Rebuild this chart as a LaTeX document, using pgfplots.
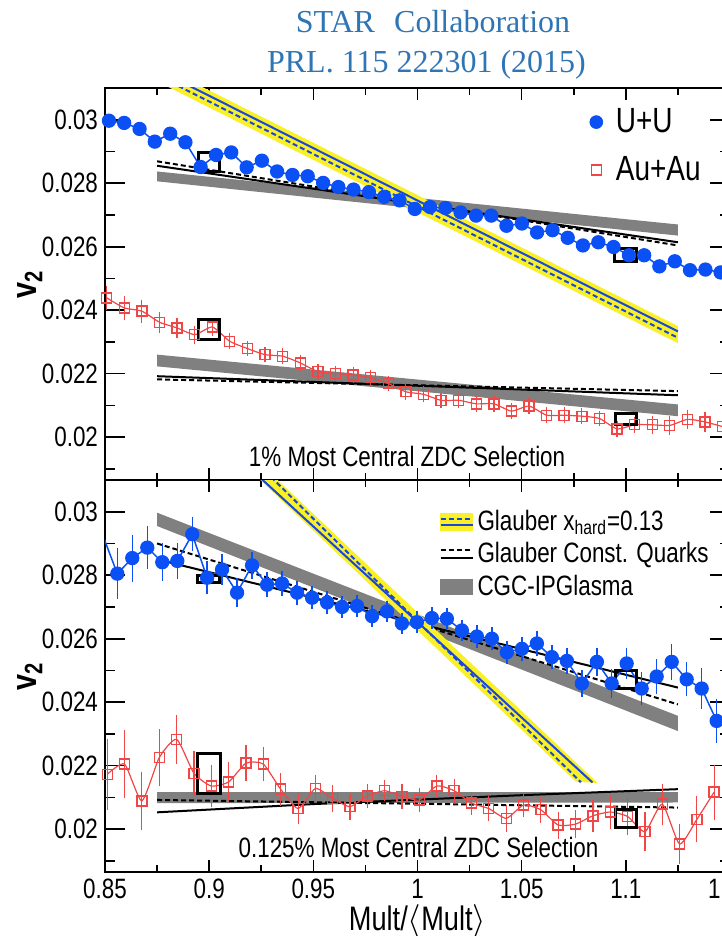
\documentclass[border=0pt]{standalone}
\usepackage{pgfplots}
\pgfplotsset{compat=1.18}
\usepackage{pgfplotstable}
\usepgfplotslibrary{groupplots}
\usepackage{fontspec}
\setmainfont{Liberation Sans}[FakeStretch=0.8]
\newfontfamily\titlefont{Liberation Serif}

\definecolor{uublue}{RGB}{10,80,245}
\definecolor{aured}{RGB}{240,70,70}
\definecolor{gxyellow}{RGB}{250,240,40}
\definecolor{gxblue}{RGB}{25,70,220}
\definecolor{cgcgray}{RGB}{128,128,128}
\definecolor{titleblue}{RGB}{46,117,182}

% ---------------- data ----------------
\pgfplotstableread{
x y
0.8519 0.02997
0.8592 0.02990
0.8666 0.02971
0.8739 0.02931
0.8813 0.02956
0.8886 0.02929
0.8959 0.02851
0.9033 0.02889
0.9106 0.02897
0.9180 0.02850
0.9253 0.02871
0.9326 0.02837
0.9400 0.02826
0.9473 0.02822
0.9547 0.02801
0.9620 0.02788
0.9693 0.02780
0.9767 0.02772
0.9840 0.02757
0.9914 0.02746
0.9987 0.02719
1.0060 0.02725
1.0134 0.02722
1.0207 0.02708
1.0281 0.02698
1.0354 0.02698
1.0427 0.02666
1.0501 0.02673
1.0574 0.02645
1.0648 0.02652
1.0721 0.02628
1.0794 0.02604
1.0868 0.02614
1.0941 0.02599
1.1015 0.02573
1.1088 0.02573
1.1161 0.02538
1.1235 0.02554
1.1308 0.02526
1.1382 0.02528
1.1455 0.02519
}\topUU

\pgfplotstableread{
x y e
0.8508 0.02439 0.00025
0.8593 0.02407 0.00025
0.8677 0.02397 0.00024
0.8762 0.02362 0.00020
0.8846 0.02344 0.00018
0.8931 0.02323 0.00016
0.9015 0.02347 0.00015
0.9099 0.02302 0.00012
0.9184 0.02279 0.00012
0.9268 0.02260 0.00012
0.9353 0.02255 0.00012
0.9437 0.02234 0.00012
0.9522 0.02206 0.00012
0.9606 0.02201 0.00012
0.9691 0.02196 0.00012
0.9775 0.02187 0.00012
0.9860 0.02169 0.00012
0.9944 0.02143 0.00012
1.0029 0.02135 0.00012
1.0113 0.02116 0.00012
1.0198 0.02116 0.00012
1.0282 0.02105 0.00012
1.0367 0.02105 0.00012
1.0451 0.02082 0.00012
1.0535 0.02098 0.00012
1.0620 0.02069 0.00012
1.0704 0.02069 0.00012
1.0789 0.02066 0.00012
1.0873 0.02059 0.00012
1.0958 0.02026 0.00013
1.1042 0.02039 0.00013
1.1127 0.02039 0.00015
1.1211 0.02037 0.00017
1.1296 0.02056 0.00018
1.1380 0.02048 0.00019
1.1465 0.02033 0.00020
}\topAA

\pgfplotstableread{
x y e
0.8559 0.02805 0.00066
0.8631 0.02854 0.00060
0.8703 0.02887 0.00054
0.8775 0.02841 0.00046
0.8847 0.02845 0.00044
0.8919 0.02929 0.00040
0.8990 0.02792 0.00038
0.9062 0.02818 0.00034
0.9134 0.02745 0.00031
0.9206 0.02831 0.00029
0.9278 0.02770 0.00026
0.9350 0.02774 0.00026
0.9422 0.02745 0.00024
0.9494 0.02729 0.00023
0.9566 0.02714 0.00022
0.9638 0.02700 0.00021
0.9710 0.02703 0.00020
0.9782 0.02671 0.00020
0.9854 0.02686 0.00020
0.9925 0.02648 0.00020
0.9997 0.02652 0.00020
1.0069 0.02665 0.00020
1.0141 0.02663 0.00020
1.0213 0.02626 0.00020
1.0285 0.02607 0.00021
1.0357 0.02600 0.00022
1.0429 0.02557 0.00023
1.0501 0.02568 0.00024
1.0573 0.02585 0.00025
1.0645 0.02542 0.00025
1.0717 0.02530 0.00026
1.0789 0.02459 0.00029
1.0861 0.02527 0.00030
1.0932 0.02459 0.00031
1.1004 0.02522 0.00034
1.1076 0.02443 0.00037
1.1148 0.02481 0.00040
1.1220 0.02527 0.00044
1.1292 0.02472 0.00040
1.1364 0.02443 0.00051
1.1436 0.02341 0.00055
}\botUU

\pgfplotstableread{
x y e
0.8511 0.02173 0.00100
0.8594 0.02205 0.00094
0.8677 0.02089 0.00080
0.8761 0.02226 0.00076
0.8844 0.02283 0.00064
0.8927 0.02176 0.00058
0.9010 0.02136 0.00055
0.9094 0.02149 0.00050
0.9177 0.02208 0.00043
0.9260 0.02205 0.00040
0.9343 0.02126 0.00039
0.9427 0.02065 0.00035
0.9510 0.02128 0.00031
0.9593 0.02097 0.00031
0.9676 0.02071 0.00028
0.9760 0.02105 0.00025
0.9843 0.02121 0.00021
0.9926 0.02103 0.00026
1.0009 0.02092 0.00026
1.0093 0.02136 0.00023
1.0176 0.02121 0.00025
1.0259 0.02082 0.00024
1.0342 0.02065 0.00027
1.0426 0.02034 0.00030
1.0509 0.02076 0.00026
1.0592 0.02061 0.00029
1.0675 0.02013 0.00030
1.0759 0.02016 0.00032
1.0842 0.02042 0.00037
1.0925 0.02054 0.00042
1.1008 0.02040 0.00047
1.1092 0.01992 0.00049
1.1175 0.02079 0.00052
1.1258 0.01953 0.00051
1.1341 0.02031 0.00060
1.1424 0.02117 0.00074
}\botAA

\pgfplotsset{
  markleg/.style={legend image code/.code={\draw[##1] plot coordinates {(0pt,0pt)}; \path (7.6pt,0pt);}},
  panel/.style={
    scale only axis, width=312.5pt, height=196pt,
    xmin=0.85, xmax=1.15, ymin=0.01865, ymax=0.0310,
    xtick={0.85,0.9,0.95,1,1.05,1.1,1.15},
    minor xtick={0.875,0.925,0.975,1.025,1.075,1.125},
    ytick={0.02,0.022,0.024,0.026,0.028,0.03},
    minor ytick={0.019,0.021,0.023,0.025,0.027,0.029},
    tick align=inside,
    major tick length=10pt, minor tick length=5pt,
    xtick style={/pgfplots/major tick length=6pt,/pgfplots/minor tick length=3.3pt},
    axis line style={line width=1pt},
    every tick/.append style={line width=0.8pt, black},
    tick label style={font=\fontsize{14}{16}\selectfont},
    scaled ticks=false,
    yticklabel style={/pgf/number format/fixed, /pgf/number format/precision=3},
    xticklabel style={/pgf/number format/fixed, /pgf/number format/precision=2},
    /pgf/number format/assume math mode=true,
    ylabel={\bfseries v\textsubscript{2}},
    ylabel style={font=\fontsize{18}{20}\selectfont, at={(axis description cs:-0.12,0.5)}, anchor=center},
  },
  uustyle/.style={uublue, line width=0.75pt, mark=*, mark size=3.2pt, mark options={solid, fill=uublue, draw=uublue}},
  aastyle/.style={aured, line width=0.6pt, smooth, tension=0.35, mark=square, mark size=2.5pt, mark options={solid, line width=0.7pt, fill=none}},
  sysbox/.style={black, line width=1.5pt, forget plot, line join=miter},
  band/.style={draw=none, forget plot},
  mline/.style={black, line width=1pt, forget plot},
  mdash/.style={black, line width=1pt, dash pattern=on 2.5pt off 1.5pt, forget plot},
}

\begin{document}
\begin{tikzpicture}
\begin{groupplot}[group style={group size=1 by 2, vertical sep=0pt}, panel]
% ================= top panel =================
\nextgroupplot[xticklabels={},
  legend style={at={(0.7656,0.969)}, anchor=north west, draw=none, fill=none,
    font=\fontsize{17.5}{20}\selectfont, row sep=6.5pt},
  legend cell align=left]
\addlegendimage{only marks, mark=*, mark size=3.2pt, color=uublue, mark options={fill=uublue}, markleg}
\addlegendentry{U+U}
\addlegendimage{only marks, mark=square, mark size=2.5pt, color=aured, mark options={line width=0.7pt}, markleg}
\addlegendentry{Au+Au}
% CGC bands
\addplot[band, fill=cgcgray] coordinates {(0.875,0.02806) (1.125,0.02635) (1.125,0.02670) (0.875,0.02837)} -- cycle;
\addplot[band, fill=cgcgray] coordinates {(0.875,0.02223) (1.125,0.02066) (1.125,0.02103) (0.875,0.02260)} -- cycle;
% Glauber const quarks
\addplot[mline] coordinates {(0.875,0.02855) (1.125,0.02614)};
\addplot[mdash] coordinates {(0.875,0.02869) (1.125,0.02604)};
\addplot[mline] coordinates {(0.875,0.02192) (1.125,0.02132)};
\addplot[mdash] coordinates {(0.875,0.02182) (1.125,0.02145)};
% Glauber x_hard
\addplot[band, fill=gxyellow] coordinates {(0.875,0.03175) (1.125,0.02350) (1.125,0.02296) (0.875,0.03121)} -- cycle;
\addplot[gxblue, line width=1pt, forget plot] coordinates {(0.875,0.03158) (1.125,0.02333)};
\addplot[gxblue, line width=1pt, dash pattern=on 2.5pt off 1.5pt, forget plot] coordinates {(0.875,0.03140) (1.125,0.02313)};
% data
\addplot[uustyle, forget plot] table[x=x, y=y] {\topUU};
\addplot[aastyle, forget plot, error bars/.cd, y dir=both, y explicit,
  error bar style={line width=0.6pt, solid}, error mark options={mark size=2pt, line width=0.6pt}]
  table[x=x, y=y, y error=e] {\topAA};
% systematic boxes
\addplot[sysbox] coordinates {(0.8947,0.02837) (0.9048,0.02837) (0.9048,0.02897) (0.8947,0.02897)} -- cycle;
\addplot[sysbox] coordinates {(1.0947,0.02554) (1.1053,0.02554) (1.1053,0.02593) (1.0947,0.02593)} -- cycle;
\addplot[sysbox] coordinates {(0.8947,0.02308) (0.9048,0.02308) (0.9048,0.02370) (0.8947,0.02370)} -- cycle;
\addplot[sysbox] coordinates {(1.0952,0.02040) (1.1053,0.02040) (1.1053,0.02074) (1.0952,0.02074)} -- cycle;
\node[anchor=base, font=\fontsize{14}{16}\selectfont] at (axis cs:0.995,0.01908) {1\% Most Central ZDC Selection};

% ================= bottom panel =================
\nextgroupplot[xlabel={Mult/$\langle$Mult$\rangle$},
  xlabel style={font=\fontsize{17}{20}\selectfont, at={(axis description cs:0.5,-0.148)}, anchor=base},
  legend style={at={(0.525,0.944)}, anchor=north west, draw=none, fill=none,
    font=\fontsize{14}{16}\selectfont, row sep=0.5pt},
  legend cell align=left]
\addlegendimage{legend image code/.code={
  \fill[gxyellow] (0pt,-4.3pt) rectangle (16pt,4.3pt);
  \draw[gxblue, line width=1pt, dash pattern=on 2.5pt off 1.5pt] (0pt,1.6pt) -- (16pt,1.6pt);
  \draw[gxblue, line width=1pt] (0pt,-1.5pt) -- (16pt,-1.5pt);}}
\addlegendentry{Glauber x\textsubscript{hard}=0.13}
\addlegendimage{legend image code/.code={
  \draw[black, line width=1pt, dash pattern=on 2.5pt off 1.5pt] (0pt,2pt) -- (16pt,2pt);
  \draw[black, line width=1pt] (0pt,-2pt) -- (16pt,-2pt);}}
\addlegendentry{Glauber Const. Quarks}
\addlegendimage{legend image code/.code={
  \fill[cgcgray] (0pt,-3.7pt) rectangle (16pt,3.7pt);}}
\addlegendentry{CGC-IPGlasma}
% CGC bands
\addplot[band, fill=cgcgray] coordinates {(0.875,0.02955) (1.125,0.02309) (1.125,0.02357) (0.875,0.02997)} -- cycle;
\addplot[band, fill=cgcgray] coordinates {(0.875,0.02082) (1.125,0.02084) (1.125,0.02117) (0.875,0.02117)} -- cycle;
% Glauber const quarks
\addplot[mline] coordinates {(0.875,0.02850) (1.125,0.02446)};
\addplot[mdash] coordinates {(0.875,0.02900) (1.125,0.02393)};
\addplot[mline] coordinates {(0.875,0.02053) (0.95,0.02079) (1.05,0.02107) (1.125,0.02126)};
\addplot[mdash] coordinates {(0.875,0.02092) (1.125,0.02068)};
% Glauber x_hard
\addplot[band, fill=gxyellow] coordinates {(0.9214,0.0312) (0.9296,0.0312) (1.0865,0.02145) (1.0760,0.02150)} -- cycle;
\addplot[gxblue, line width=1pt, forget plot] coordinates {(0.875,0.03405) (1.084,0.02147)};
\addplot[gxblue, line width=1pt, dash pattern=on 2.5pt off 1.5pt, forget plot] coordinates {(0.875,0.03463) (1.0784,0.02148)};
% data
\addplot[uublue, line width=0.75pt, forget plot] coordinates {(0.8487,0.0293) (0.8559,0.02805)};
\addplot[uustyle, forget plot, error bars/.cd, y dir=both, y explicit,
  error bar style={line width=0.7pt, solid}, error mark options={mark size=2.2pt, line width=0.7pt}]
  table[x=x, y=y, y error=e] {\botUU};
\addplot[aastyle, forget plot, error bars/.cd, y dir=both, y explicit,
  error bar style={line width=0.6pt, solid}, error mark options={mark size=2pt, line width=0.6pt}]
  table[x=x, y=y, y error=e] {\botAA};
% systematic boxes
\addplot[sysbox] coordinates {(0.8945,0.02778) (0.9048,0.02778) (0.9048,0.02800) (0.8945,0.02800)} -- cycle;
\addplot[sysbox] coordinates {(1.0952,0.02443) (1.1053,0.02443) (1.1053,0.02500) (1.0952,0.02500)} -- cycle;
\addplot[sysbox] coordinates {(0.8946,0.02113) (0.9053,0.02113) (0.9053,0.02239) (0.8946,0.02239)} -- cycle;
\addplot[sysbox] coordinates {(1.0949,0.02005) (1.1053,0.02005) (1.1053,0.02061) (1.0949,0.02061)} -- cycle;
\node[anchor=base, font=\fontsize{14}{16}\selectfont] at (axis cs:1.0005,0.01912) {0.125\% Most Central ZDC Selection};
\end{groupplot}
% title
\node[anchor=base, text=titleblue, font=\titlefont\fontsize{16}{19}\selectfont] at ([shift={(7.75pt,27.5pt)}]group c1r1.north) {STAR\hspace{0.6em}Collaboration};
\node[anchor=base, text=titleblue, font=\titlefont\fontsize{16}{19}\selectfont] at ([shift={(4.5pt,7.5pt)}]group c1r1.north) {PRL. 115 222301 (2015)};
\pgfresetboundingbox
\path[use as bounding box] ([shift={(-52.5pt,44pt)}]group c1r1.north west) rectangle ([shift={(308.5pt,-32pt)}]group c1r2.south west);
\end{tikzpicture}
\end{document}
